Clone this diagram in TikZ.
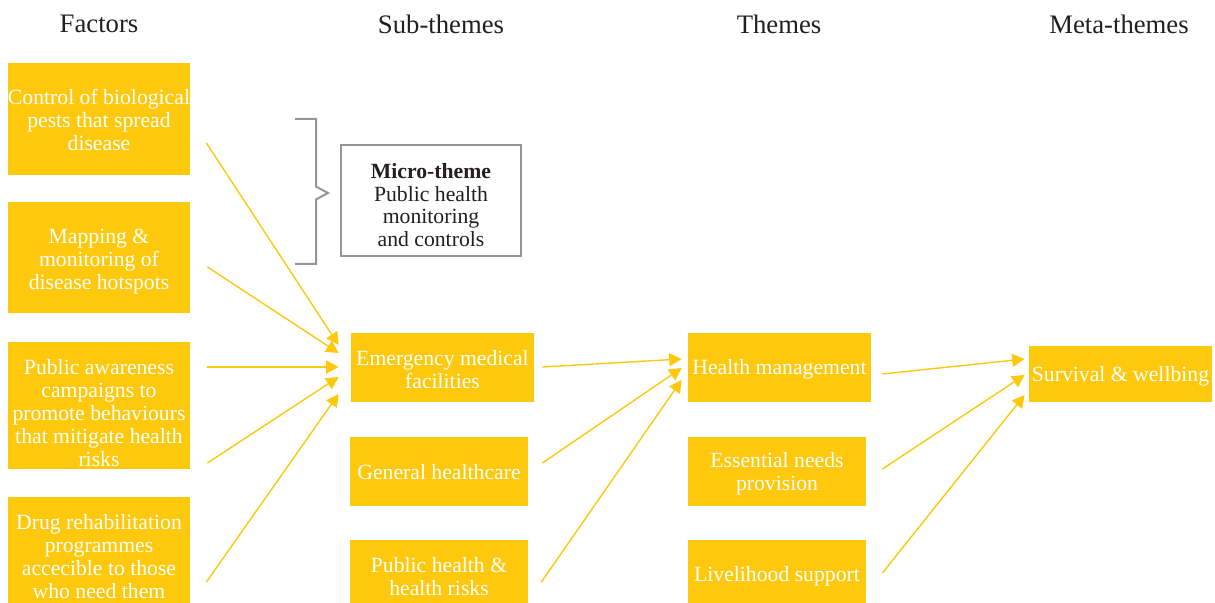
\documentclass[tikz,border=0pt]{standalone}
\usepackage{fontspec}
\setmainfont{Liberation Serif}
\usetikzlibrary{calc,arrows.meta}
\definecolor{yel}{HTML}{FEC90C}
\definecolor{gry}{HTML}{939598}
\definecolor{ink}{HTML}{231F20}
\tikzset{
  ybox/.style={fill=yel, draw=none, inner sep=0pt},
  ytext/.style={text=white, align=center, inner sep=0pt, font=\fontsize{10.85}{11.5}\selectfont},
  header/.style={text=ink, inner sep=0pt, font=\fontsize{13.35}{15}\selectfont},
  arr/.style={draw=yel, line width=0.7pt, -{Triangle[length=6.2pt,width=6.5pt]}},
  brk/.style={draw=gry, line width=1pt},
  microbox/.style={draw=gry, line width=1pt, fill=white, inner sep=0pt, align=center, text=ink,
    font=\fontsize{10.85}{11.4}\selectfont}
}
\begin{document}
\begin{tikzpicture}[x=0.5pt,y=-0.5pt]
\useasboundingbox (0,0) rectangle (1215,603);
% headers
\node[header] (hf) at (99,24) {Factors};
\node[header] (hs) at (441,24) {Sub-themes};
\node[header] (ht) at (779,24) {Themes};
\node[header] (hm) at (1119,24) {Meta-themes};
% factor boxes
\node[ybox, minimum width=91pt, minimum height=56pt] (f1) at (99,119) {};
\node[ybox, minimum width=91pt, minimum height=55.5pt] (f2) at (99,257.5) {};
\node[ybox, minimum width=91pt, minimum height=63.5pt] (f3) at (99,405.5) {};
\node[ybox, minimum width=91pt, minimum height=53pt] (f4) at (99,550) {};
\node[ytext] (f1t) at (99,120) {Control of biological\\pests that spread\\disease};
\node[ytext] (f2t) at (99,261.5) {Mapping \&\\monitoring of\\disease hotspots};
\node[ytext] (f3t) at (99,413) {Public awareness\\campaigns to\\promote behaviours\\that mitigate health\\risks};
\node[ytext] (f4t) at (99,557) {Drug rehabilitation\\programmes\\accecible to those\\who need them};
% sub-theme boxes
\node[ybox, minimum width=91.5pt, minimum height=34.5pt] (s1) at (442.5,367.5) {};
\node[ybox, minimum width=89pt, minimum height=34.5pt] (s2) at (439,471.5) {};
\node[ybox, minimum width=89pt, minimum height=31.5pt] (s3) at (439,571.5) {};
\node[ytext] (s1t) at (442.5,370) {Emergency medical\\facilities};
\node[ytext] (s2t) at (439,472) {General healthcare};
\node[ytext] (s3t) at (439,577) {Public health \&\\health risks};
% theme boxes
\node[ybox, minimum width=91.5pt, minimum height=34.5pt] (t1) at (779.5,367.5) {};
\node[ybox, minimum width=89pt, minimum height=34.5pt] (t2) at (777,471.5) {};
\node[ybox, minimum width=89pt, minimum height=31.5pt] (t3) at (777,571.5) {};
\node[ytext] (t1t) at (779.5,369) {Health management};
\node[ytext] (t2t) at (777,473.5) {Essential needs\\provision};
\node[ytext] (t3t) at (777,576) {Livelihood support};
% meta-theme box
\node[ybox, minimum width=91.5pt, minimum height=28pt] (m1) at (1120.5,374) {};
\node[ytext] (m1t) at (1120.5,376) {Survival \& wellbing};
% micro-theme
\node[microbox, minimum width=90pt, minimum height=55.5pt] (mic) at (431,200.5) {};
\node[text=ink, align=center, inner sep=0pt, font=\fontsize{10.85}{11.4}\selectfont] (mict) at (431,205)
  {\textbf{Micro-theme}\\Public health\\monitoring\\and controls};
% bracket
\draw[brk] ($(mic.west)+(-45,-81.5)$) -- ($(mic.west)+(-24,-81.5)$) -- ($(mic.west)+(-24,-14)$)
  -- ($(mic.west)+(-12,-7.5)$) -- ($(mic.west)+(-24,-1)$) -- ($(mic.west)+(-24,63.5)$)
  -- ($(mic.west)+(-45,63.5)$);
% arrows factors -> sub-themes
\draw[arr] ($(f1.east)+(16,24)$) -- ($(s1.west)+(-12,-22.5)$);
\draw[arr] ($(f2.east)+(17,9.5)$) -- ($(s1.west)+(-12,-14.5)$);
\draw[arr] ($(f3.east)+(17,-38.5)$) -- ($(s1.west)+(-12,-0.5)$);
\draw[arr] ($(f3.east)+(17,57.5)$) -- ($(s1.west)+(-12,9.5)$);
\draw[arr] ($(f4.east)+(16,32)$) -- ($(s1.west)+(-12,26.5)$);
% sub-themes -> themes
\draw[arr] ($(s1.east)+(8,-0.5)$) -- ($(t1.west)+(-6,-8.5)$);
\draw[arr] ($(s2.east)+(14,-8.5)$) -- ($(t1.west)+(-6,0.5)$);
\draw[arr] ($(s3.east)+(13,10.5)$) -- ($(t1.west)+(-6,12.5)$);
% themes -> meta-theme
\draw[arr] ($(t1.east)+(11,6.5)$) -- ($(m1.west)+(-4,-15)$);
\draw[arr] ($(t2.east)+(16,-2.5)$) -- ($(m1.west)+(-4,1)$);
\draw[arr] ($(t3.east)+(16,1.5)$) -- ($(m1.west)+(-4,21)$);
\end{tikzpicture}
\end{document}
